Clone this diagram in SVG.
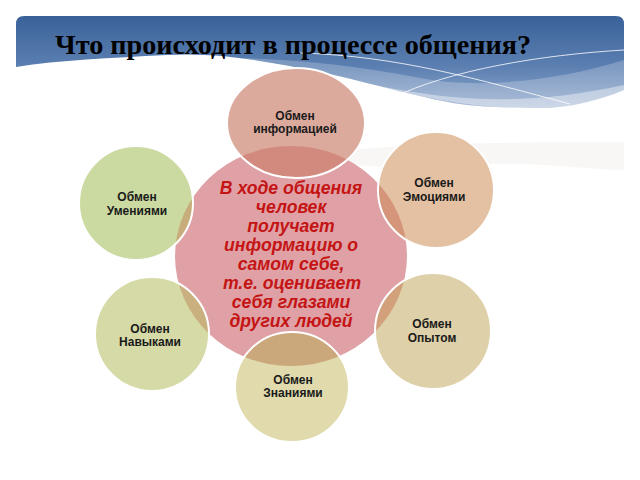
<svg xmlns="http://www.w3.org/2000/svg" width="640" height="480" viewBox="0 0 640 480">
<style>
.lbl{font-family:"Liberation Sans",Arial,sans-serif;font-weight:bold;font-size:12px;fill:#1a1a1a;text-anchor:middle}
.ctr{font-family:"Liberation Sans",Arial,sans-serif;font-weight:bold;font-style:italic;font-size:17.6px;fill:#c41414;text-anchor:middle}
.ring{fill:none;stroke:#ffffff;stroke-width:2}
.title{font-family:"Liberation Serif","Times New Roman",serif;font-weight:bold;font-size:28px;fill:#000}
</style>
<defs>
<linearGradient id="hdr" x1="0" y1="0" x2="0" y2="1">
<stop offset="0" stop-color="#3a6298"/>
<stop offset="0.55" stop-color="#5b7fb1"/>
<stop offset="1" stop-color="#93abcd"/>
</linearGradient>
<clipPath id="hdrClip"><path d="M16,24 Q16,16 24,16 L616,16 Q624,16 624,24 L624,120 L16,120 Z"/></clipPath>
<clipPath id="cc"><ellipse cx="291" cy="256" rx="116" ry="110"/></clipPath>
</defs>
<rect width="640" height="480" fill="#ffffff"/>
<g id="header" clip-path="url(#hdrClip)">
<path d="M16,16 L624,16 L624,90 C600,100 570,108 540,108 C500,108 470,106 453,103 C400,93 360,80 320,72 C270,62 220,52 167,55 C110,58 60,60 16,67 Z" fill="url(#hdr)"/>
<path d="M180,56 C260,58 330,60 420,78 C480,90 560,80 624,60 L624,90 C600,100 570,108 540,108 C500,108 470,106 453,103 C400,93 360,80 320,72 C270,62 220,52 180,56 Z" fill="#ffffff" opacity="0.22"/>
<path d="M330,75 C420,96 500,112 624,85 L624,92 C600,101 570,108 540,108 C480,110 420,98 330,75 Z" fill="#ffffff" opacity="0.4"/>
<path d="M300,53 C400,56 480,80 570,104" fill="none" stroke="#ffffff" stroke-width="1" opacity="0.8"/>
<path d="M392,98 C450,70 540,55 624,50" fill="none" stroke="#ffffff" stroke-width="1" opacity="0.8"/>
</g>
<path d="M330,152 C400,144 500,142 624,142 L624,170 C560,168 520,160 470,166 C420,172 370,168 330,160 Z" fill="#f3f2ee" opacity="0.6"/>
<text class="title" x="55" y="54" textLength="476" lengthAdjust="spacingAndGlyphs">Что происходит в процессе общения?</text>
<g id="center">
<ellipse cx="291" cy="256" rx="116" ry="110" fill="#dfa1a5"/>
</g>
<g id="connectors"></g>
<g id="n-info">
<ellipse cx="296" cy="123" rx="69" ry="55" fill="#dcaa9d"/>
<ellipse cx="296" cy="123" rx="69" ry="55" fill="#d28a7e" clip-path="url(#cc)"/>
<ellipse class="ring" cx="296" cy="123" rx="69" ry="55"/>
<text class="lbl" x="295" y="120">Обмен</text>
<text class="lbl" x="295" y="133">информацией</text>
</g>
<g id="n-umeniya">
<circle cx="136" cy="203" r="57" fill="#cbdaa1"/>
<circle cx="136" cy="203" r="57" fill="#c8ad7c" clip-path="url(#cc)"/>
<circle class="ring" cx="136" cy="203" r="57"/>
<text class="lbl" x="137" y="201">Обмен</text>
<text class="lbl" x="137" y="215">Умениями</text>
</g>
<g id="n-emocii">
<circle cx="436" cy="190" r="58" fill="#e4c1a3"/>
<circle cx="436" cy="190" r="58" fill="#d4957a" clip-path="url(#cc)"/>
<circle class="ring" cx="436" cy="190" r="58"/>
<text class="lbl" x="434" y="187">Обмен</text>
<text class="lbl" x="434" y="201">Эмоциями</text>
</g>
<g id="n-navyki">
<circle cx="152" cy="334" r="57" fill="#d6daa6"/>
<circle cx="152" cy="334" r="57" fill="#c9b07e" clip-path="url(#cc)"/>
<circle class="ring" cx="152" cy="334" r="57"/>
<text class="lbl" x="150" y="333">Обмен</text>
<text class="lbl" x="150" y="346">Навыками</text>
</g>
<g id="n-opyt">
<circle cx="433" cy="331" r="58" fill="#ded0a8"/>
<circle cx="433" cy="331" r="58" fill="#d3a07c" clip-path="url(#cc)"/>
<circle class="ring" cx="433" cy="331" r="58"/>
<text class="lbl" x="432" y="328">Обмен</text>
<text class="lbl" x="432" y="342">Опытом</text>
</g>
<g id="n-znaniya">
<ellipse cx="292" cy="387" rx="57" ry="55" fill="#e0daac"/>
<ellipse cx="292" cy="387" rx="57" ry="55" fill="#cba77c" clip-path="url(#cc)"/>
<ellipse class="ring" cx="292" cy="387" rx="57" ry="55"/>
<text class="lbl" x="293" y="384">Обмен</text>
<text class="lbl" x="293" y="397">Знаниями</text>
</g>
<g id="center-text">
<text class="ctr" x="291" y="194">В ходе общения</text>
<text class="ctr" x="291" y="213">человек</text>
<text class="ctr" x="291" y="232">получает</text>
<text class="ctr" x="291" y="251">информацию о</text>
<text class="ctr" x="291" y="270">самом себе,</text>
<text class="ctr" x="292" y="289">т.е. оценивает</text>
<text class="ctr" x="291" y="308">себя глазами</text>
<text class="ctr" x="291" y="327">других людей</text>
</g>
</svg>
